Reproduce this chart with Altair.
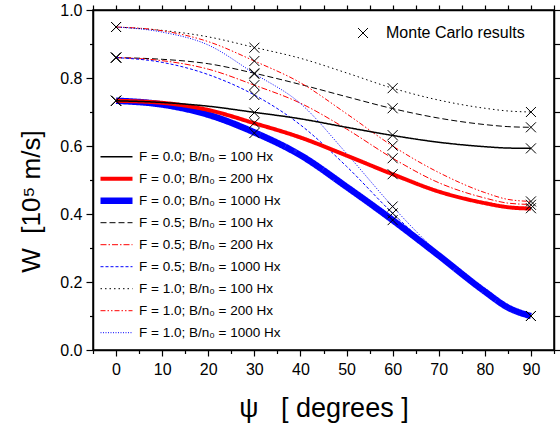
import altair as alt
import pandas as pd

# ---------------- data ----------------
psi_grid = [0, 10, 20, 30, 40, 50, 60, 70, 80, 85, 90]

series_names = [
    "F = 0.0; B/n₀ = 100 Hx",
    "F = 0.0; B/n₀ = 200 Hx",
    "F = 0.0; B/n₀ = 1000 Hx",
    "F = 0.5; B/n₀ = 100 Hx",
    "F = 0.5; B/n₀ = 200 Hx",
    "F = 0.5; B/n₀ = 1000 Hx",
    "F = 1.0; B/n₀ = 100 Hx",
    "F = 1.0; B/n₀ = 200 Hx",
    "F = 1.0; B/n₀ = 1000 Hx",
]

w_f00_b100 = [0.733, 0.728, 0.717, 0.699, 0.680, 0.655, 0.631, 0.611, 0.598, 0.594, 0.593]
w_f00_b200 = [0.733, 0.727, 0.706, 0.667, 0.625, 0.572, 0.517, 0.466, 0.432, 0.420, 0.416]
w_f00_b1000 = [0.733, 0.722, 0.692, 0.640, 0.573, 0.480, 0.382, 0.278, 0.172, 0.125, 0.100]
w_f05_b100 = [0.860, 0.855, 0.842, 0.814, 0.781, 0.745, 0.710, 0.682, 0.663, 0.657, 0.655]
w_f05_b200 = [0.860, 0.851, 0.826, 0.779, 0.726, 0.650, 0.564, 0.492, 0.447, 0.432, 0.428]
w_f05_b1000 = [0.860, 0.846, 0.810, 0.750, 0.662, 0.540, 0.402, 0.280, 0.173, 0.125, 0.100]
w_f10_b100 = [0.950, 0.940, 0.921, 0.890, 0.858, 0.815, 0.770, 0.735, 0.711, 0.703, 0.700]
w_f10_b200 = [0.950, 0.939, 0.907, 0.850, 0.786, 0.695, 0.600, 0.522, 0.463, 0.443, 0.437]
w_f10_b1000 = [0.950, 0.935, 0.897, 0.813, 0.725, 0.578, 0.422, 0.284, 0.174, 0.125, 0.100]

series_values = [w_f00_b100, w_f00_b200, w_f00_b1000,
                 w_f05_b100, w_f05_b200, w_f05_b1000,
                 w_f10_b100, w_f10_b200, w_f10_b1000]

# Monte Carlo results (psi, W)
mc_w_at_0 = [0.950, 0.950, 0.950, 0.860, 0.860, 0.860, 0.733, 0.733, 0.733]
mc_w_at_30 = [0.889, 0.850, 0.814, 0.812, 0.779, 0.750, 0.698, 0.668, 0.638]
mc_w_at_60 = [0.770, 0.711, 0.632, 0.601, 0.564, 0.517, 0.422, 0.402, 0.382]
mc_w_at_90 = [0.700, 0.655, 0.593, 0.437, 0.427, 0.417, 0.100, 0.100, 0.100]
mc_label = "Monte Carlo results"

# axis ranges and tick positions
x_range = [-5, 95]
y_range = [0, 1]
x_ticks = list(range(-5, 100, 5))
y_ticks = [round(i * 0.1, 1) for i in range(11)]

# styles
line_colors = ["#000000", "#ff0000", "#0000ff"] * 3
line_dashes = [[1, 0], [1, 0], [1, 0],
               [6, 3], [6, 2, 1.5, 2], [3, 2],
               [1.5, 3], [5, 2, 1.5, 2, 1.5, 2], [1, 1.5]]
line_widths = [1.5, 4, 6.5, 1, 1, 1, 1, 1, 1]

# ---------------- tables ----------------
rows = []
for name, vals in zip(series_names, series_values):
    for p, v in zip(psi_grid, vals):
        rows.append({"psi": p, "W": v, "series": name})
df_lines = pd.DataFrame(rows)

mc_rows = []
for p, vals in [(0, mc_w_at_0), (30, mc_w_at_30), (60, mc_w_at_60), (90, mc_w_at_90)]:
    for v in vals:
        mc_rows.append({"psi": p, "W": v, "label": mc_label})
df_mc = pd.DataFrame(mc_rows)

df_frame = pd.DataFrame({"psi": x_range, "W": y_range})

FONT = "Liberation Sans"
NB = "\u00a0"
XPATH = "M-1,-1L1,1M-1,1L1,-1"
W_PX, H_PX = 461, 340

xscale = alt.Scale(domain=x_range, nice=False, zero=False)
yscale = alt.Scale(domain=y_range, nice=False, zero=False)

x_axis_bottom = alt.Axis(
    orient="bottom", values=x_ticks, domain=True, domainColor="black", domainWidth=1.5,
    grid=False,
    labelExpr="datum.value % 10 === 0 && datum.value >= 0 && datum.value <= 90 ? datum.label : ''",
    tickSize={"condition": {"test": "datum.value % 10 === 0", "value": 6}, "value": 3.5},
    tickColor="black", tickWidth=1.2, labelFontSize=16, labelFont=FONT, labelColor="black",
    labelPadding=5, labelFlush=False,
    title="ψ" + NB * 3 + "[ degrees ]", titleFontSize=27, titleFont=FONT, titleFontWeight="normal",
    titleColor="black", titleX=230.5, titleY=58, titleBaseline="middle", titleAlign="center",
)
y_axis_left = alt.Axis(
    orient="left", values=y_ticks, domain=True, domainColor="black", domainWidth=1.5,
    grid=False, format=".1f",
    labelExpr="round(datum.value * 10) % 2 === 0 ? datum.label : ''",
    tickSize={"condition": {"test": "round(datum.value * 10) % 2 === 0", "value": 7}, "value": 3.5},
    tickColor="black", tickWidth=1.2, labelFontSize=16, labelFont=FONT, labelColor="black",
    labelPadding=4, labelFlush=False,
    title="W" + NB * 2 + "[10⁵ m/s]", titleFontSize=26, titleFont=FONT, titleFontWeight="normal",
    titleColor="black", titleX=-62, titleY=191, titleBaseline="middle", titleAlign="center",
    titleAngle=270,
)
x_axis_top = alt.Axis(
    orient="top", values=x_ticks, domain=True, domainColor="black", domainWidth=1.5,
    grid=False, labels=False, title=None, tickSize=5, tickColor="black", tickWidth=1.2,
)
y_axis_right = alt.Axis(
    orient="right", values=y_ticks, domain=True, domainColor="black", domainWidth=1.5,
    grid=False, labels=False, title=None, tickSize=6, tickColor="black", tickWidth=1.2,
)

legend_cfg = dict(
    orient="none", legendX=4, legendY=136, title=None, symbolType="stroke",
    symbolSize=1024, labelFontSize=13.5, labelFont=FONT, labelColor="black",
    labelOffset=3, clipHeight=21.4, rowPadding=0, padding=0, labelLimit=300,
)

color_scale = alt.Scale(domain=series_names, range=line_colors)
dash_scale = alt.Scale(domain=series_names, range=line_dashes)
width_scale = alt.Scale(type="ordinal", domain=series_names, range=line_widths)


def line_layer(names, with_axes=False):
    return alt.Chart(df_lines).transform_filter(
        alt.FieldOneOfPredicate(field="series", oneOf=names)
    ).mark_line(interpolate="monotone").encode(
        x=alt.X("psi:Q", scale=xscale, axis=x_axis_bottom if with_axes else None),
        y=alt.Y("W:Q", scale=yscale, axis=y_axis_left if with_axes else None),
        color=alt.Color("series:N", scale=color_scale, legend=alt.Legend(**legend_cfg)),
        strokeDash=alt.StrokeDash("series:N", scale=dash_scale, legend=alt.Legend(**legend_cfg)),
        strokeWidth=alt.StrokeWidth("series:N", scale=width_scale, legend=alt.Legend(**legend_cfg)),
    )


thin = line_layer(series_names[3:], with_axes=True)
blue_thick = line_layer([series_names[2]])
red_thick = line_layer([series_names[1]])
black_solid = line_layer([series_names[0]])

points = alt.Chart(df_mc).mark_point(filled=False, color="black", strokeWidth=1, size=100, opacity=1).encode(
    x=alt.X("psi:Q", scale=xscale, axis=None),
    y=alt.Y("W:Q", scale=yscale, axis=None),
    shape=alt.Shape("label:N", scale=alt.Scale(domain=[mc_label], range=[XPATH]),
                    legend=alt.Legend(orient="none", legendX=262, legendY=15, title=None,
                                      symbolSize=100, symbolStrokeColor="black",
                                      symbolFillColor="transparent", symbolStrokeWidth=1,
                                      labelFontSize=16, labelFont=FONT, labelColor="black",
                                      labelOffset=15, padding=0, labelLimit=300)),
)

main = alt.layer(
    thin, blue_thick, red_thick, black_solid, points
).resolve_axis(
    x="independent", y="independent"
).resolve_legend(
    shape="independent"
)

# invisible layer that carries the top and right frame axes (same scale domains)
frame = alt.Chart(df_frame).mark_point(opacity=0).encode(
    x=alt.X("psi:Q", scale=alt.Scale(domain=x_range, nice=False, zero=False), axis=x_axis_top),
    y=alt.Y("W:Q", scale=alt.Scale(domain=y_range, nice=False, zero=False), axis=y_axis_right),
)

chart = alt.layer(main, frame).resolve_scale(
    x="independent", y="independent"
).properties(
    width=W_PX, height=H_PX,
    autosize=alt.AutoSizeParams(type="none"),
    padding={"left": 93, "top": 10, "right": 6, "bottom": 76},
).configure(
    background="white"
).configure_view(
    stroke="black", strokeWidth=1.5
)

chart.save("out.html", embed_options={"renderer": "svg", "actions": False})
